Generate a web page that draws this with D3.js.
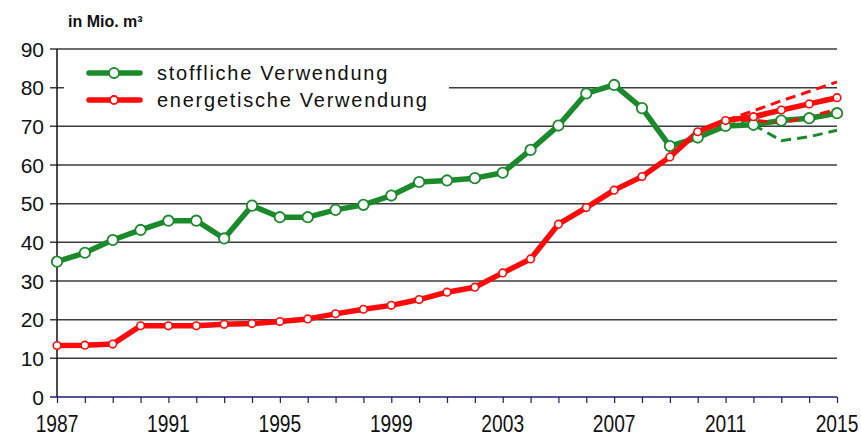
<!DOCTYPE html>
<html><head><meta charset="utf-8">
<script src="https://cdn.jsdelivr.net/npm/d3@7"></script>
<style>body{margin:0;background:#fff;} svg{display:block;font-family:"Liberation Sans",Arial,sans-serif;}</style>
</head><body>
<svg id="c" width="861" height="437"></svg>
<script>
const years = d3.range(1987, 2016);
const stofflich = [35.0,37.3,40.6,43.2,45.6,45.6,41.0,49.5,46.5,46.5,48.4,49.7,52.1,55.6,56.0,56.6,58.0,63.9,70.2,78.5,80.7,74.7,64.9,67.1,70.1,70.4,71.5,72.1,73.4];
const energetisch = [13.3,13.4,13.7,18.4,18.4,18.4,18.8,19.0,19.5,20.2,21.5,22.7,23.7,25.2,27.1,28.4,32.1,35.7,44.7,49.0,53.5,57.0,62.1,68.6,71.5,72.5,74.2,75.8,77.4];
const stofflichHighYears = [2011,2012,2013,2014,2015];
const stofflichHigh = [70.1,72.0,74.0,76.0,77.8];
const stofflichLowYears = [2012,2013,2014,2015];
const stofflichLow = [70.4,66.3,67.3,69.0];
const energetischHighYears = [2011,2012,2013,2014,2015];
const energetischHigh = [71.5,74.0,76.6,79.0,81.5];
const energetischLowYears = [2011,2012,2013,2014,2015];
const energetischLow = [71.5,71.6,70.8,72.5,74.4];
const yTicks = [0,10,20,30,40,50,60,70,80,90];
const xLabelYears = [1987,1991,1995,1999,2003,2007,2011,2015];
const seriesNames = ["stoffliche Verwendung","energetische Verwendung"];
const unitLabel = "in Mio. m³";

const svg = d3.select("#c");
const x = d3.scaleLinear().domain([1987,2015]).range([57,837]);
const y = d3.scaleLinear().domain([0,90]).range([397,49]);
const GREEN = "#1a8a2a", RED = "#ff0a0a";

// gridlines
svg.append("g").selectAll("line").data(yTicks.filter(d=>d>0)).join("line")
  .attr("x1",50).attr("x2",837).attr("y1",d=>y(d)).attr("y2",d=>y(d))
  .attr("stroke","#3c3c3c").attr("stroke-width",1.5);

// legend background hides part of gridline
svg.append("rect").attr("x",64).attr("y",57).attr("width",385).attr("height",60).attr("fill","#fff");

// y axis line
svg.append("line").attr("x1",57).attr("x2",57).attr("y1",y(90)).attr("y2",y(0)).attr("stroke","#111").attr("stroke-width",1.5);

// x axis
const xAxis = d3.axisBottom(x).tickValues(years).tickSize(6).tickFormat("");
const xg = svg.append("g").attr("transform",`translate(0,${y(0)})`).call(xAxis);
xg.select(".domain").attr("stroke","#1c1c78").attr("stroke-width",1.5).attr("d",`M50,0H837`);
xg.selectAll(".tick line").attr("stroke","#1c1c78").attr("stroke-width",1.2);

// y tick labels
svg.append("g").selectAll("text").data(yTicks).join("text")
  .attr("x",44).attr("y",d=>y(d)+7.5).attr("text-anchor","end")
  .attr("font-size",21).attr("fill","#111").text(d=>d);
// x tick labels (tall, narrow)
svg.append("g").selectAll("text").data(xLabelYears).join("text")
  .attr("transform",d=>`translate(${x(d)},431.5) scale(0.8,1)`).attr("text-anchor","middle")
  .attr("font-size",24).attr("fill","#111").text(d=>d);

svg.append("text").attr("x",68).attr("y",27).attr("font-size",16).attr("font-weight","bold").attr("fill","#111").text(unitLabel);

const line = d3.line().x(d=>x(d[0])).y(d=>y(d[1]));
const zip = (a,b)=>a.map((v,i)=>[v,b[i]]);

function dashed(xs, vs, col){
  svg.append("path").attr("d",line(zip(xs,vs))).attr("fill","none").attr("stroke",col)
    .attr("stroke-width",3).attr("stroke-dasharray","10,6");
}
dashed(stofflichHighYears, stofflichHigh, GREEN);
dashed(stofflichLowYears, stofflichLow, GREEN);

svg.append("path").attr("d",line(zip(years,stofflich))).attr("fill","none").attr("stroke",GREEN).attr("stroke-width",5.5).attr("stroke-linejoin","round");
dashed(energetischHighYears, energetischHigh, RED);
dashed(energetischLowYears, energetischLow, RED);
svg.append("path").attr("d",line(zip(years,energetisch))).attr("fill","none").attr("stroke",RED).attr("stroke-width",5.5).attr("stroke-linejoin","round");

svg.append("g").selectAll("circle").data(zip(years,stofflich)).join("circle")
  .attr("cx",d=>x(d[0])).attr("cy",d=>y(d[1])).attr("r",5.2)
  .attr("fill","#fff").attr("stroke",GREEN).attr("stroke-width",1.8);
svg.append("g").selectAll("circle").data(zip(years,energetisch)).join("circle")
  .attr("cx",d=>x(d[0])).attr("cy",d=>y(d[1])).attr("r",3.8)
  .attr("fill","#fff").attr("stroke",RED).attr("stroke-width",1.6);

// legend
const leg = [{c:GREEN,r:5,yy:73},{c:RED,r:4,yy:100}];
leg.forEach((l,i)=>{
  svg.append("line").attr("x1",89).attr("x2",140).attr("y1",l.yy).attr("y2",l.yy).attr("stroke",l.c).attr("stroke-width",5.5).attr("stroke-linecap","round");
  svg.append("circle").attr("cx",114).attr("cy",l.yy).attr("r",l.r).attr("fill","#fff").attr("stroke",l.c).attr("stroke-width",1.8);
  svg.append("text").attr("x",157).attr("y",l.yy+7).attr("font-size",20).attr("letter-spacing",1.75).attr("fill","#111").text(seriesNames[i]);
});
</script>
</body></html>
